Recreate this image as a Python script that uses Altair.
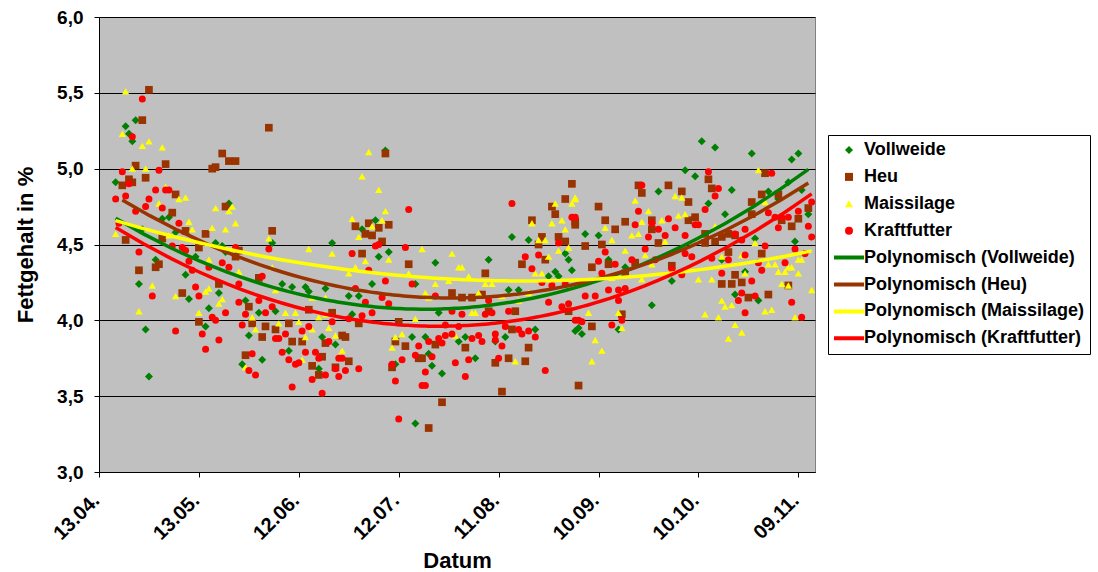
import altair as alt
import pandas as pd

FONT = "Liberation Sans"

series_names = ["Vollweide", "Heu", "Maissilage", "Kraftfutter"]
series_colors = ["#008000", "#993300", "#FFFF00", "#FF0000"]
series_shapes = ["diamond", "square", "triangle-up", "circle"]
series_sizes = [64, 49, 70, 64]
# legend sample for the trend lines: a thin filled bar (path in unit symbol coordinates)
trend_shape = "M-3.75,-0.5H3.75V0.5H-3.75Z"

tick_days = [0, 30, 60, 90, 120, 150, 180, 210]
tick_labels = ["13.04.", "13.05.", "12.06.", "12.07.", "11.08.", "10.09.", "10.10.", "09.11."]
y_ticks = [3.0, 3.5, 4.0, 4.5, 5.0, 5.5, 6.0]

# (Tage seit 13.04., Fettgehalt %)
vollweide = [
    (8, 5.28), (11, 5.32), (9, 5.23), (10, 5.18), (39, 4.77), (5, 4.91), (19, 4.67), (21, 4.68),
    (13, 4.60), (23, 4.58), (52, 4.51), (70, 4.51), (35, 4.51), (37, 4.49), (38, 4.45), (29, 4.42),
    (17, 4.40), (26, 4.30), (12, 4.24), (55, 4.24), (58, 4.22), (62, 4.22), (68, 4.21),
    (14, 3.94), (15, 3.63), (27, 4.14), (36, 4.18), (33, 4.08), (32, 3.96), (44, 4.13), (48, 4.05),
    (45, 3.90), (49, 3.74), (43, 3.71), (53, 4.06), (57, 3.80), (66, 3.68), (67, 3.89), (71, 3.84),
    (63, 4.19),
    (86, 5.12), (83, 4.66), (79, 4.60), (84, 4.42), (87, 4.45), (101, 4.38), (117, 4.40), (82, 4.24),
    (95, 4.24), (75, 4.16), (78, 4.16), (76, 4.04), (102, 4.05), (123, 4.20), (126, 4.20), (135, 4.29),
    (137, 4.32), (138, 4.29), (142, 4.33), (141, 4.40), (124, 4.55), (129, 4.53), (140, 4.44),
    (94, 3.89), (89, 3.71), (98, 3.89), (99, 3.78), (100, 3.70), (103, 3.65), (95, 3.32), (108, 3.86),
    (110, 3.89), (113, 3.75), (119, 3.86), (122, 3.89), (131, 3.94), (143, 3.93),
    (181, 5.18), (185, 5.14), (196, 5.10), (208, 5.06), (210, 5.10), (176, 4.99), (179, 4.95),
    (190, 4.86), (207, 4.91), (211, 4.86), (168, 4.85), (201, 4.85), (204, 4.80), (213, 4.70),
    (197, 4.54), (209, 4.52), (194, 4.32), (188, 4.70), (183, 4.77), (187, 4.40), (150, 4.56),
    (146, 4.57), (153, 4.40), (158, 4.35), (172, 4.26),
    (144, 3.95), (145, 3.91), (156, 3.94), (166, 4.10), (191, 4.17), (198, 4.13),
]

heu = [
    (15, 5.52), (13, 5.32), (51, 5.27), (37, 5.10), (39, 5.05), (41, 5.05), (35, 5.01), (34, 5.00),
    (20, 5.03), (11, 5.02), (14, 4.94), (9, 4.93), (10, 4.91), (7, 4.89), (23, 4.83), (38, 4.75),
    (22, 4.71), (26, 4.59), (32, 4.57), (52, 4.59), (8, 4.53), (19, 4.54), (30, 4.48), (42, 4.46),
    (41, 4.42), (17, 4.35), (18, 4.37), (12, 4.33), (48, 4.28), (36, 4.24),
    (25, 4.18), (30, 3.99), (45, 4.09), (46, 3.98), (50, 3.96), (49, 3.89), (44, 3.77), (53, 3.94),
    (57, 3.98), (58, 3.86), (61, 3.86), (67, 3.76), (64, 3.70), (66, 3.64), (70, 4.05), (68, 3.85),
    (71, 3.69), (63, 4.07),
    (86, 5.10), (77, 4.62), (81, 4.64), (84, 4.61), (87, 4.63), (80, 4.57), (82, 4.56), (85, 4.52),
    (79, 4.44), (93, 4.37), (116, 4.31), (106, 4.18), (109, 4.15), (112, 4.15), (115, 4.17),
    (78, 3.98), (90, 3.99), (117, 4.06), (125, 4.06), (141, 4.06), (127, 4.37), (134, 4.40),
    (132, 4.50), (133, 4.55), (138, 4.55), (140, 4.52), (130, 4.66), (137, 4.70), (136, 4.75),
    (140, 4.80), (142, 4.90), (143, 4.63),
    (73, 3.90), (74, 3.89), (75, 3.73), (89, 3.86), (92, 3.83), (97, 3.75), (96, 3.75), (88, 3.69),
    (101, 3.84), (103, 3.46), (99, 3.29), (110, 3.82), (119, 3.72), (123, 3.75), (121, 3.53),
    (128, 3.73), (129, 3.82), (124, 3.94), (144, 3.57),
    (200, 4.97), (183, 4.93), (184, 4.87), (162, 4.89), (163, 4.84), (171, 4.89), (175, 4.85),
    (177, 4.78), (199, 4.83), (204, 4.83), (196, 4.78), (213, 4.74), (205, 4.66), (208, 4.62),
    (210, 4.67), (207, 4.23), (199, 4.44), (191, 4.30), (193, 4.25), (187, 4.24), (190, 4.24),
    (196, 4.70), (189, 4.57), (191, 4.56), (187, 4.55), (189, 4.45), (185, 4.52), (182, 4.57),
    (182, 4.51), (179, 4.68), (177, 4.66), (168, 4.51), (166, 4.66), (166, 4.60), (158, 4.65),
    (155, 4.60), (152, 4.66), (150, 4.75), (143, 4.65), (146, 4.49), (151, 4.50), (148, 4.35),
    (153, 4.37), (161, 4.38), (172, 4.36), (158, 4.31),
    (148, 3.96), (157, 4.04), (195, 4.15), (201, 4.17),
]

maissilage = [
    (8, 5.51), (7, 5.23), (15, 5.18), (13, 5.15), (19, 5.14), (10, 5.00), (14, 5.00), (20, 4.88),
    (24, 4.80), (26, 4.81), (18, 4.77), (40, 4.75), (39, 4.72), (35, 4.74), (27, 4.65), (34, 4.61),
    (38, 4.60), (41, 4.64), (28, 4.60), (5, 4.57), (51, 4.54), (21, 4.56), (63, 4.47), (70, 4.44),
    (33, 4.40), (42, 4.32), (52, 4.35), (16, 4.23), (33, 4.21),
    (12, 4.06), (23, 4.16), (32, 4.19), (37, 4.14), (36, 4.11), (30, 4.05), (46, 4.02), (47, 3.94),
    (44, 3.69), (53, 4.20), (56, 4.05), (59, 4.05), (54, 3.98), (60, 3.99), (62, 3.89), (64, 3.94),
    (61, 3.74), (66, 4.02), (68, 4.04), (69, 3.95), (64, 4.15), (68, 4.15),
    (81, 5.11), (79, 4.95), (84, 4.86), (86, 4.72), (76, 4.67), (82, 4.62), (85, 4.66), (78, 4.55),
    (97, 4.47), (87, 4.40), (80, 4.39), (106, 4.44), (108, 4.35), (109, 4.35), (77, 4.35),
    (75, 4.31), (93, 4.31), (111, 4.29), (105, 4.26), (101, 4.24), (116, 4.24), (118, 4.24),
    (114, 4.18), (98, 4.18), (99, 4.15), (121, 4.16), (95, 4.01), (112, 4.05), (113, 4.05),
    (126, 4.13), (131, 4.31), (133, 4.31), (129, 4.18), (135, 4.42), (132, 4.53), (134, 4.53),
    (141, 4.48), (138, 4.46), (130, 4.64), (136, 4.64), (139, 4.66), (140, 4.60), (137, 4.77),
    (143, 4.81), (142, 4.77),
    (71, 3.90), (73, 3.80), (72, 3.76), (89, 3.89), (91, 3.91), (88, 3.82), (107, 3.90), (125, 3.73),
    (198, 4.99), (161, 4.79), (173, 4.82), (175, 4.81), (200, 4.78), (210, 4.40), (211, 4.40),
    (214, 4.20), (207, 4.35), (208, 4.35), (210, 4.31), (204, 4.32), (206, 4.32), (201, 4.37),
    (203, 4.37), (205, 4.24), (207, 4.23), (197, 4.51), (194, 4.43), (194, 4.31), (180, 4.27),
    (184, 4.27), (185, 4.62), (193, 4.43), (187, 4.42), (174, 4.69), (176, 4.70), (170, 4.52),
    (169, 4.66), (165, 4.72), (163, 4.65), (160, 4.56), (162, 4.57), (152, 4.61), (154, 4.53),
    (143, 4.80), (158, 4.46), (164, 4.43), (166, 4.37), (154, 4.28), (163, 4.27),
    (147, 4.05), (149, 3.87), (151, 3.80), (148, 3.73), (156, 4.05), (157, 3.95), (182, 4.04),
    (186, 4.02), (187, 4.13), (188, 4.09), (190, 4.10), (200, 4.06), (202, 4.07), (191, 3.97),
    (189, 3.88), (193, 3.92), (209, 4.02),
]

kraftfutter = [
    (13, 5.46), (10, 5.21), (7, 4.98), (18, 4.99), (9, 4.90), (17, 4.86), (20, 4.86), (21, 4.86),
    (5, 4.80), (8, 4.82), (15, 4.80), (14, 4.75), (19, 4.74), (11, 4.72), (6, 4.64), (24, 4.64),
    (12, 4.45), (51, 4.47), (22, 4.49), (25, 4.48), (26, 4.46), (41, 4.48), (27, 4.39), (37, 4.38),
    (39, 4.35), (33, 4.35), (28, 4.33), (49, 4.29), (42, 4.24), (29, 4.22),
    (16, 4.16), (23, 3.93), (30, 4.16), (38, 4.05), (34, 4.02), (35, 4.00), (31, 3.91), (36, 3.87),
    (32, 3.81), (42, 4.12), (44, 4.04), (48, 4.13), (50, 4.05), (43, 3.97), (46, 3.78), (45, 3.67),
    (47, 3.64), (52, 4.09), (56, 3.91), (53, 3.88), (54, 3.88), (61, 3.93), (63, 3.96), (55, 3.79),
    (57, 3.74), (59, 3.71), (60, 3.72), (62, 3.79), (65, 3.79), (66, 3.75), (68, 3.64), (64, 3.61),
    (58, 3.56), (67, 3.52), (70, 3.99), (69, 3.86), (72, 3.75), (71, 3.68), (72, 3.63),
    (93, 4.73), (124, 4.77), (83, 4.49), (84, 4.50), (92, 4.48), (76, 4.44), (81, 4.33), (86, 4.26),
    (94, 4.24), (77, 4.21), (85, 4.15), (101, 4.16), (80, 4.12), (87, 4.11), (75, 4.01), (79, 4.03),
    (82, 4.05), (104, 3.97), (106, 4.06), (109, 4.04), (116, 4.04), (118, 4.05), (117, 4.13),
    (123, 4.06), (135, 4.12), (139, 4.09), (141, 4.11), (128, 4.42), (130, 4.34), (132, 4.43),
    (133, 4.25), (136, 4.23), (140, 4.24), (138, 4.51), (142, 4.68), (143, 4.68),
    (73, 3.75), (74, 3.67), (78, 3.68), (108, 3.96), (96, 3.83), (95, 3.77), (91, 3.74), (88, 3.71),
    (89, 3.60), (99, 3.86), (102, 3.88), (103, 3.85), (100, 3.76), (98, 3.66), (97, 3.57),
    (98, 3.57), (90, 3.35), (104, 3.90), (106, 3.91), (112, 3.88), (114, 3.90), (115, 3.86),
    (107, 3.72), (111, 3.74), (110, 3.63), (119, 3.91), (119, 3.87), (121, 3.83), (120, 3.75),
    (122, 3.96), (126, 3.94), (127, 3.91), (129, 3.93), (131, 3.89), (134, 3.67), (143, 4.00),
    (202, 4.97), (183, 4.98), (186, 4.87), (185, 4.82), (163, 4.89), (214, 4.78), (210, 4.72),
    (201, 4.71), (203, 4.68), (205, 4.68), (207, 4.68), (204, 4.61), (213, 4.62), (214, 4.55),
    (212, 4.44), (209, 4.47), (198, 4.38), (206, 4.38), (199, 4.33), (200, 4.49), (194, 4.43),
    (187, 4.31), (196, 4.26), (182, 4.73), (194, 4.60), (191, 4.57), (193, 4.53), (189, 4.40),
    (184, 4.41), (180, 4.63), (179, 4.63), (176, 4.56), (173, 4.61), (171, 4.67), (170, 4.56),
    (168, 4.60), (166, 4.64), (165, 4.55), (162, 4.72), (161, 4.63), (152, 4.45), (164, 4.47),
    (160, 4.40), (150, 4.39), (155, 4.37), (151, 4.31), (167, 4.40), (172, 4.34), (175, 4.30),
    (176, 4.44), (178, 4.42), (146, 4.16), (149, 4.16), (153, 4.20), (156, 4.20), (158, 4.21),
    (156, 4.13), (144, 4.00), (145, 3.99), (154, 3.97), (157, 4.00), (193, 4.18), (192, 4.13),
    (197, 4.16), (194, 4.05), (208, 4.12), (211, 4.02),
]

rows = []
for name, pts in zip(series_names, [vollweide, heu, maissilage, kraftfutter]):
    for d, v in pts:
        rows.append({"series": name, "day": d, "val": v})
df = pd.DataFrame(rows)

trend_names = ["Polynomisch (%s)" % s for s in series_names]
all_names = series_names + trend_names
all_colors = series_colors + series_colors
all_shapes = series_shapes + [trend_shape] * 4

legend = alt.Legend(
    title=None, orient="none", legendX=729, legendY=118,
    padding=5, symbolSize=64, symbolStrokeWidth=0, clipHeight=20,
    rowPadding=6.9, labelOffset=6, symbolOffset=7, labelLimit=400,
    strokeColor="black", fillColor="white", cornerRadius=0, symbolOpacity=1,
)

color = alt.Color("name:N", scale=alt.Scale(domain=all_names, range=all_colors), legend=legend)
shape = alt.Shape("name:N", scale=alt.Scale(domain=all_names, range=all_shapes), legend=legend)

label_js = "[" + ",".join("'%s'" % t for t in tick_labels) + "][round(datum.value/30)]"

x = alt.X("day:Q",
          scale=alt.Scale(domain=[0, 215], nice=False, zero=False),
          axis=alt.Axis(values=tick_days, labelExpr=label_js, title="Datum", grid=False,
                        labelAngle=-45, labelAlign="right", labelBaseline="middle",
                        labelFontSize=20, labelPadding=20, labelOffset=-3,
                        titleBaseline="alphabetic", titleY=95,
                        labelOverlap=False, labelBound=False, labelFlush=False))
y = alt.Y("val:Q",
          scale=alt.Scale(domain=[3, 6], nice=False, zero=False),
          axis=alt.Axis(values=y_ticks, labelExpr="replace(format(datum.value, '.1f'), '.', ',')",
                        title="Fettgehalt in %", grid=True, gridColor="black", gridWidth=1,
                        labelFontSize=19, labelPadding=11,
                        titleBaseline="alphabetic", titleX=-67, titleY=227.5,
                        titleAngle=270, labelOverlap=False, labelFlush=False))

base = alt.Chart(df)

points = base.transform_calculate(name="datum.series").mark_point(
    filled=True, opacity=1, clip=True
).encode(
    x=x, y=y, color=color, shape=shape,
    size=alt.Size("name:N", scale=alt.Scale(domain=series_names, range=series_sizes), legend=None),
)

lines = base.transform_regression(
    "day", "val", groupby=["series"], method="poly", order=2
).transform_calculate(
    name="'Polynomisch (' + datum.series + ')'"
).mark_line(strokeWidth=3.5, clip=True).encode(x=x, y=y, color=color)

chart = alt.layer(points, lines).properties(
    width=716, height=455,
    padding={"left": 99, "top": 17, "right": 283, "bottom": 100},
    autosize=alt.AutoSizeParams(type="none"),
    background="white",
).configure_view(
    fill="#C0C0C0", stroke="#808080", strokeWidth=1
).configure_axis(
    labelFont=FONT, labelFontWeight="bold", labelColor="black",
    titleFont=FONT, titleFontSize=22, titleFontWeight="bold", titleColor="black",
    domainColor="black", domainWidth=1, tickColor="black", tickSize=5, tickWidth=1,
).configure_legend(
    labelFont=FONT, labelFontSize=18, labelFontWeight="bold", labelColor="black",
)

chart.save("out.html", embed_options={"renderer": "svg", "actions": False})
